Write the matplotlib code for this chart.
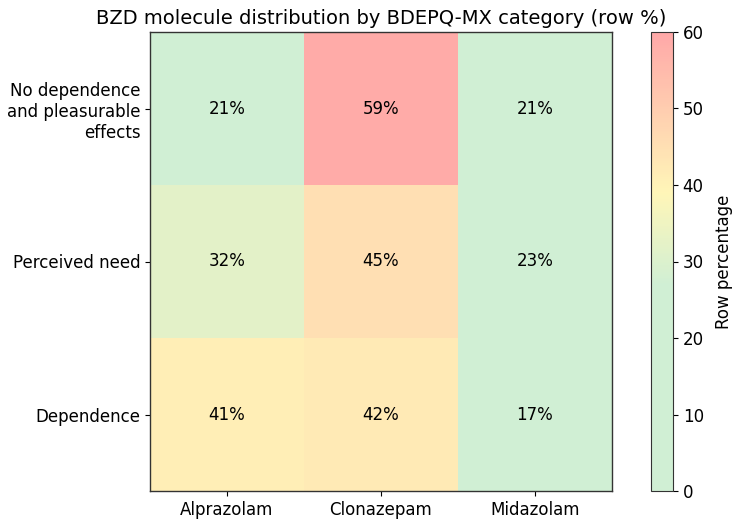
import matplotlib
matplotlib.use("Agg")
import matplotlib.pyplot as plt
import numpy as np
from matplotlib.colors import LinearSegmentedColormap

molecules = ["Alprazolam", "Clonazepam", "Midazolam"]
categories = ["No dependence\nand pleasurable\neffects", "Perceived need", "Dependence"]
row_pct = np.array([
    [21, 59, 21],
    [32, 45, 23],
    [41, 42, 17],
])

cmap = LinearSegmentedColormap.from_list(
    "gyr", [(0.0, "#d0efd4"), (0.45, "#d0efd4"), (0.65, "#fff6b8"), (1.0, "#ffa8a8")])

fig = plt.figure(figsize=(7.32, 5.21), dpi=100)
ax = fig.add_axes([150 / 732, 30 / 521, 462 / 732, 459 / 521])
cax = fig.add_axes([651 / 732, 30 / 521, 22 / 732, 459 / 521])

im = ax.imshow(row_pct, cmap=cmap, vmin=0, vmax=60, aspect="auto")
for i in range(row_pct.shape[0]):
    for j in range(row_pct.shape[1]):
        ax.text(j, i, f"{row_pct[i, j]}%", ha="center", va="center", fontsize=12)

ax.set_xticks(range(len(molecules)))
ax.set_xticklabels(molecules, fontsize=12)
ax.set_yticks(range(len(categories)))
ax.set_yticklabels(categories, fontsize=12)
ax.set_title("BZD molecule distribution by BDEPQ-MX category (row %)", fontsize=14, pad=6)
for s in ax.spines.values():
    s.set_color("#333333")
    s.set_linewidth(1.0)

cb = fig.colorbar(im, cax=cax)
cb.set_label("Row percentage", fontsize=12, labelpad=8)
cb.ax.tick_params(labelsize=12)
cb.outline.set_edgecolor("#333333")

fig.savefig("out.png", dpi=100)
